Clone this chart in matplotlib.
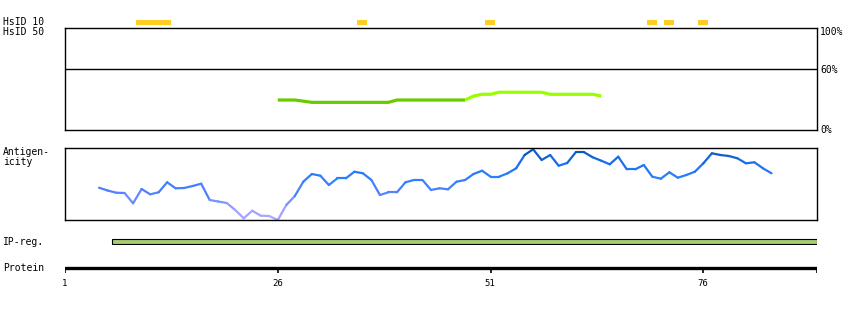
import numpy as np
import matplotlib
matplotlib.use("Agg")
import matplotlib.pyplot as plt
from matplotlib.collections import LineCollection
from matplotlib.colors import LinearSegmentedColormap, Normalize

# protein / axis data
protein_len = 89.35
tick_pos = [1, 26, 51, 76]

# HsID 10 hits (residue start, end)
hsid10_start = [10, 36, 51, 70, 72, 76]
hsid10_end = [13, 36, 51, 70, 72, 76]

# HsID 50 identity (%), residues 26..64
hsid50_res = list(range(26, 65))
hsid50_pct = [29.4, 29.4, 29.4, 28.3, 27.1, 27.1, 27.1, 27.1, 27.1, 27.1,
              27.1, 27.1, 27.1, 27.1, 29.4, 29.4, 29.4, 29.4, 29.4, 29.4,
              29.4, 29.4, 29.4, 33.3, 35.0, 35.0, 37.0, 37.0, 37.0, 37.0,
              37.0, 37.0, 35.0, 35.0, 35.0, 35.0, 35.0, 35.0, 33.3]

# antigenicity score, residues 5..84
antig_res = list(range(5, 85))
antig_val = [32.3, 29.5, 27.3, 27.0, 16.7, 31.0, 25.7, 27.7, 37.7, 31.7,
             32.0, 34.0, 36.3, 20.0, 18.5, 17.0, 10.0, 1.7, 9.3, 4.3,
             4.0, 0.0, 15.0, 24.0, 38.3, 46.0, 44.3, 35.0, 41.7, 41.7,
             48.3, 46.7, 40.0, 25.0, 27.7, 27.7, 37.7, 40.0, 40.0, 30.0,
             31.7, 30.7, 38.3, 40.0, 46.0, 49.3, 43.3, 43.3, 46.7, 51.7,
             65.0, 70.7, 60.0, 65.0, 54.3, 57.0, 67.7, 67.7, 62.7, 59.3,
             55.7, 63.3, 50.7, 50.7, 55.0, 43.3, 41.3, 47.7, 42.3, 45.0,
             48.3, 56.7, 66.7, 65.0, 64.0, 61.7, 56.7, 57.7, 51.7, 46.7]

# IP region
ip_start = 6.5
ip_end = protein_len

W, H = 850, 310
fig = plt.figure(figsize=(W / 100, H / 100), dpi=100)
font = dict(family="DejaVu Sans Mono", fontsize=7)


def px_axes(x0, y0, x1, y1):
    return fig.add_axes([x0 / W, 1 - y1 / H, (x1 - x0) / W, (y1 - y0) / H])


def label(x, y, s, **kw):
    fig.text(x / W, 1 - y / H, s, va="center", **{**font, **kw})


xlim = (1, protein_len)

# HsID 10 strip
ax0 = px_axes(65, 19, 817, 26)
ax0.set_xlim(*xlim)
ax0.set_ylim(0, 1)
ax0.axis("off")
for s, e in zip(hsid10_start, hsid10_end):
    ax0.barh(0.5, (e + 0.5) - (s - 0.65), left=s - 0.65, height=0.8,
             color="#ffcc22", linewidth=0)

# HsID 50 panel
ax1 = px_axes(65, 28, 817, 130)
ax1.set_xlim(*xlim)
ax1.set_ylim(0, 100)
ax1.set_xticks([])
ax1.set_yticks([])
for sp in ax1.spines.values():
    sp.set_linewidth(1.0)
ax1.axhline(60, color="black", lw=1.0)
split = next(i for i, v in enumerate(hsid50_pct) if v > 30)
ax1.plot(hsid50_res[:split], hsid50_pct[:split], color="#66cc00", lw=2.3,
         solid_joinstyle="miter", solid_capstyle="butt")
ax1.plot(hsid50_res[split - 1:], hsid50_pct[split - 1:], color="#99ff00",
         lw=2.3, solid_joinstyle="miter", solid_capstyle="butt")

# antigenicity panel
ax2 = px_axes(65, 148, 817, 220)
ax2.set_xlim(*xlim)
ax2.set_ylim(0, 72)
ax2.set_xticks([])
ax2.set_yticks([])
for sp in ax2.spines.values():
    sp.set_linewidth(1.0)
cmap = LinearSegmentedColormap.from_list(
    "antig", ["#b4a8ff", "#8c9cff", "#4d80ff", "#2a7fff", "#1a6fee", "#0050a0"])
pts = np.column_stack([antig_res, antig_val])
segs = np.stack([pts[:-1], pts[1:]], axis=1)
mids = (np.array(antig_val[:-1]) + np.array(antig_val[1:])) / 2
lc = LineCollection(segs, cmap=cmap, norm=Normalize(0, 72), linewidths=1.6,
                    capstyle="round", joinstyle="round")
lc.set_array(mids)
lc.set_clip_on(False)
ax2.add_collection(lc)

# IP region bar
ax3 = px_axes(65, 238, 817, 245)
ax3.set_xlim(*xlim)
ax3.set_ylim(0, 1)
ax3.axis("off")
ax3.barh(0.5, ip_end - ip_start, left=ip_start, height=0.75,
         color="#a8cc70", edgecolor="black", linewidth=0.8)

# protein axis
ax4 = px_axes(65, 266, 817, 273)
ax4.set_xlim(*xlim)
ax4.set_ylim(0, 1)
ax4.axis("off")
ax4.axhline(0.72, color="black", lw=2.4)
for t in tick_pos + [protein_len]:
    ax4.plot([t, t], [0.0, 0.8], color="black", lw=1.2, solid_capstyle="butt")
for t in tick_pos:
    x = 65 + (t - 1) * 8.5
    label(x, 283, str(t), ha="center", family="DejaVu Sans Mono",
          fontsize=6.5, fontstretch="condensed")

# left labels
label(3, 22, "HsID 10")
label(3, 32, "HsID 50")
label(3, 152, "Antigen-")
label(3, 162, "icity")
label(3, 242, "IP-reg.")
label(3, 268, "Protein")

# right labels
label(820, 32, "100%")
label(820, 70, "60%")
label(820, 130, "0%")

fig.savefig("out.png", dpi=100)
